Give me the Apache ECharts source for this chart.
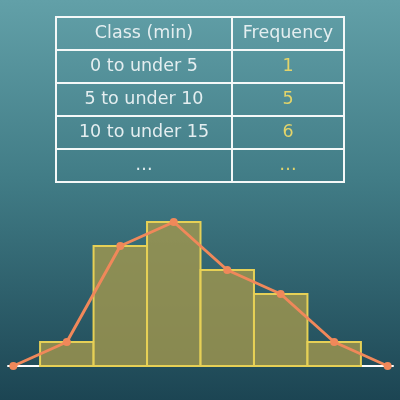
<!DOCTYPE html>
<html>
<head>
<meta charset="utf-8">
<script src="https://cdn.jsdelivr.net/npm/echarts@6/dist/echarts.min.js"></script>
<style>html,body{margin:0;padding:0;background:#3a6f7a;}#c{width:400px;height:400px;}</style>
</head>
<body>
<div id="c"></div>
<script>
// ---- data ----
var tableHeaders = ['Class (min)', 'Frequency'];
var tableClasses = ['0 to under 5', '5 to under 10', '10 to under 15', '…'];
var tableFreqs = ['1', '5', '6', '…'];
var classStarts = [0, 5, 10, 15, 20, 25];
var classWidth = 5;
var frequencies = [1, 5, 6, 4, 3, 1];

// ---- derived ----
var barData = classStarts.map(function (s, i) { return [s, s + classWidth, frequencies[i]]; });
var polyData = [[classStarts[0] - classWidth / 2, 0]];
classStarts.forEach(function (s, i) { polyData.push([s + classWidth / 2, frequencies[i]]); });
polyData.push([classStarts[classStarts.length - 1] + classWidth * 1.5, 0]);

var chart = echarts.init(document.getElementById('c'), null, {renderer: 'canvas'});

// table graphic
var tblLeft = 56, tblTop = 17, colW = [176, 112], rowH = 33;
var font = '17.5px "DejaVu Sans"';
var textColor = '#e4eef0', freqColor = '#e3d46a';
var graphics = [{
  type: 'rect', z: -10, silent: true,
  shape: {x: 0, y: 0, width: 400, height: 400},
  style: {fill: new echarts.graphic.LinearGradient(0, 0, 0, 1, [
    {offset: 0, color: '#62a0a8'},
    {offset: 0.45, color: '#417c86'},
    {offset: 1, color: '#1c4553'}
  ])}
}];
var rows = [[tableHeaders[0], tableHeaders[1], true]];
tableClasses.forEach(function (c, i) { rows.push([c, tableFreqs[i], false]); });
rows.forEach(function (r, ri) {
  var y = tblTop + ri * rowH;
  var x = tblLeft;
  for (var ci = 0; ci < 2; ci++) {
    graphics.push({
      type: 'rect', silent: true,
      shape: {x: x, y: y, width: colW[ci], height: rowH},
      style: {fill: 'transparent', stroke: '#f4f8f8', lineWidth: 2}
    });
    graphics.push({
      type: 'text', silent: true,
      x: x + colW[ci] / 2, y: y + rowH / 2,
      style: {
        text: r[ci], font: font,
        fill: (ci === 1 && !r[2]) ? freqColor : textColor,
        align: 'center', verticalAlign: 'middle'
      }
    });
    x += colW[ci];
  }
});

chart.setOption({
  animation: false,
  grid: {left: 8, right: 7, top: 174, bottom: 34},
  xAxis: {
    type: 'value', min: -3, max: 33,
    axisLine: {show: true, lineStyle: {color: '#ffffff', width: 2}},
    axisTick: {show: false}, axisLabel: {show: false}, splitLine: {show: false}
  },
  yAxis: {
    type: 'value', min: 0, max: 8,
    axisLine: {show: false}, axisTick: {show: false}, axisLabel: {show: false}, splitLine: {show: false}
  },
  graphic: graphics,
  series: [{
    type: 'custom',
    data: barData,
    renderItem: function (params, api) {
      var p0 = api.coord([api.value(0), api.value(2)]);
      var p1 = api.coord([api.value(1), 0]);
      return {
        type: 'rect',
        shape: {x: p0[0], y: p0[1], width: p1[0] - p0[0], height: p1[1] - p0[1]},
        style: {fill: 'rgba(160,150,78,0.82)', stroke: '#e6d056', lineWidth: 2}
      };
    },
    z: 2
  }, {
    type: 'line',
    data: polyData,
    clip: false,
    symbol: 'circle', symbolSize: 8,
    lineStyle: {color: '#f0885a', width: 3},
    itemStyle: {color: '#f0885a'},
    z: 3
  }]
});
</script>
</body>
</html>
